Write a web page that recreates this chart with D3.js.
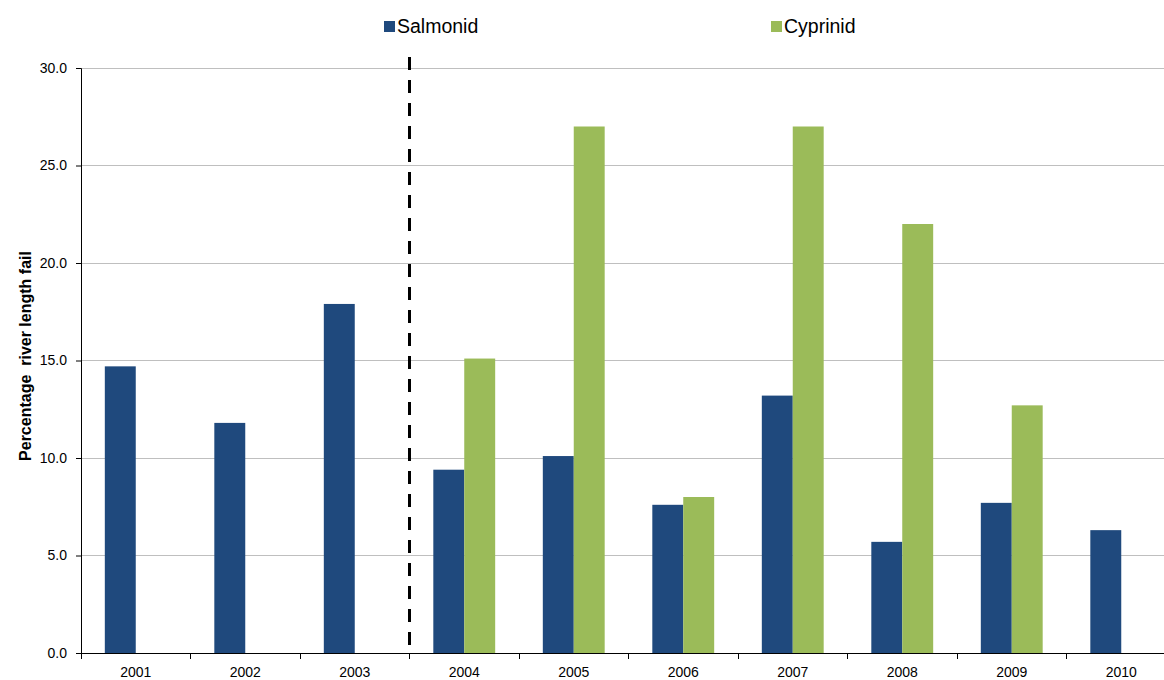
<!DOCTYPE html>
<html><head><meta charset="utf-8">
<script src="https://cdn.jsdelivr.net/npm/d3@7"></script>
<style>body{margin:0;background:#fff;}svg{display:block;font-family:"Liberation Sans",Arial,sans-serif;}</style>
</head><body>
<svg id="chart" width="1164" height="680"></svg>
<script>
(function(){
const years = ["2001","2002","2003","2004","2005","2006","2007","2008","2009","2010"];
const salmonid = [14.7, 11.8, 17.9, 9.4, 10.1, 7.6, 13.2, 5.7, 7.7, 6.3];
const cyprinid = [null, null, null, 15.1, 27.0, 8.0, 27.0, 22.0, 12.7, null];
const seriesNames = ["Salmonid", "Cyprinid"];
const seriesColors = ["#1f497d", "#9bbb59"];
const yTicks = [0, 5, 10, 15, 20, 25, 30];
const dividerAfter = "2003";

const svg = d3.select("#chart");
const mLeft = 81, mTop = 68, mBottom = 653, mRight = 1176;
const x = d3.scaleBand().domain(years).range([mLeft, mRight]).paddingInner(0).paddingOuter(0);
const y = d3.scaleLinear().domain([0, 30]).range([mBottom, mTop]);
const inner = d3.scaleBand().domain(seriesNames).range([0, x.bandwidth()]).paddingInner(0).paddingOuter(0.77);

svg.append("g").selectAll("line").data(yTicks.filter(d => d > 0)).join("line")
  .attr("x1", mLeft).attr("x2", 1164).attr("y1", d => y(d)).attr("y2", d => y(d))
  .attr("stroke", "#bfbfbf").attr("stroke-width", 1).attr("shape-rendering", "crispEdges");

const data = [];
years.forEach((yr, i) => {
  if (salmonid[i] != null) data.push({yr, s: "Salmonid", v: salmonid[i], c: seriesColors[0]});
  if (cyprinid[i] != null) data.push({yr, s: "Cyprinid", v: cyprinid[i], c: seriesColors[1]});
});
svg.append("g").selectAll("rect").data(data).join("rect")
  .attr("x", d => x(d.yr) + inner(d.s))
  .attr("width", inner.bandwidth())
  .attr("y", d => y(d.v))
  .attr("height", d => y(0) - y(d.v))
  .attr("fill", d => d.c);

const yAxis = svg.append("g").attr("transform", `translate(${mLeft},0)`)
  .call(d3.axisLeft(y).tickValues(yTicks).tickFormat(d3.format(".1f")).tickSizeOuter(0).tickSize(5).tickPadding(9));
yAxis.select(".domain").attr("stroke", "#000");
yAxis.selectAll(".tick line").attr("stroke", "#000");
yAxis.selectAll("text").attr("font-size", 14).attr("fill", "#000").attr("font-family", "Liberation Sans, Arial, sans-serif");

const xAxis = svg.append("g").attr("transform", `translate(0,${mBottom})`)
  .call(d3.axisBottom(x).tickSize(0).tickPadding(14));
xAxis.select(".domain").remove();
xAxis.selectAll("text").attr("font-size", 14).attr("fill", "#000").attr("font-family", "Liberation Sans, Arial, sans-serif");
svg.append("line").attr("x1", mLeft - 5).attr("x2", 1164).attr("y1", mBottom).attr("y2", mBottom)
  .attr("stroke", "#000").attr("shape-rendering", "crispEdges");
svg.append("g").selectAll("line").data(years).join("line")
  .attr("x1", d => x(d)).attr("x2", d => x(d)).attr("y1", mBottom).attr("y2", mBottom + 6)
  .attr("stroke", "#000").attr("shape-rendering", "crispEdges");

const dx = x(dividerAfter) + x.bandwidth();
svg.append("line").attr("x1", dx).attr("x2", dx).attr("y1", 57).attr("y2", mBottom)
  .attr("stroke", "#000").attr("stroke-width", 3).attr("stroke-dasharray", "13,10");

svg.append("text").attr("transform", "translate(31,356) rotate(-90)")
  .attr("text-anchor", "middle").attr("font-size", 16).attr("font-weight", "bold")
  .style("white-space", "pre")
  .text("Percentage  river length fail");

const legX = [384, 771];
seriesNames.forEach((n, i) => {
  svg.append("rect").attr("x", legX[i]).attr("y", 21).attr("width", 11).attr("height", 11).attr("fill", seriesColors[i]);
  svg.append("text").attr("x", legX[i] + 13).attr("y", 33).attr("font-size", 19.5).attr("fill", "#000").text(n);
});
})();
</script>
</body></html>
